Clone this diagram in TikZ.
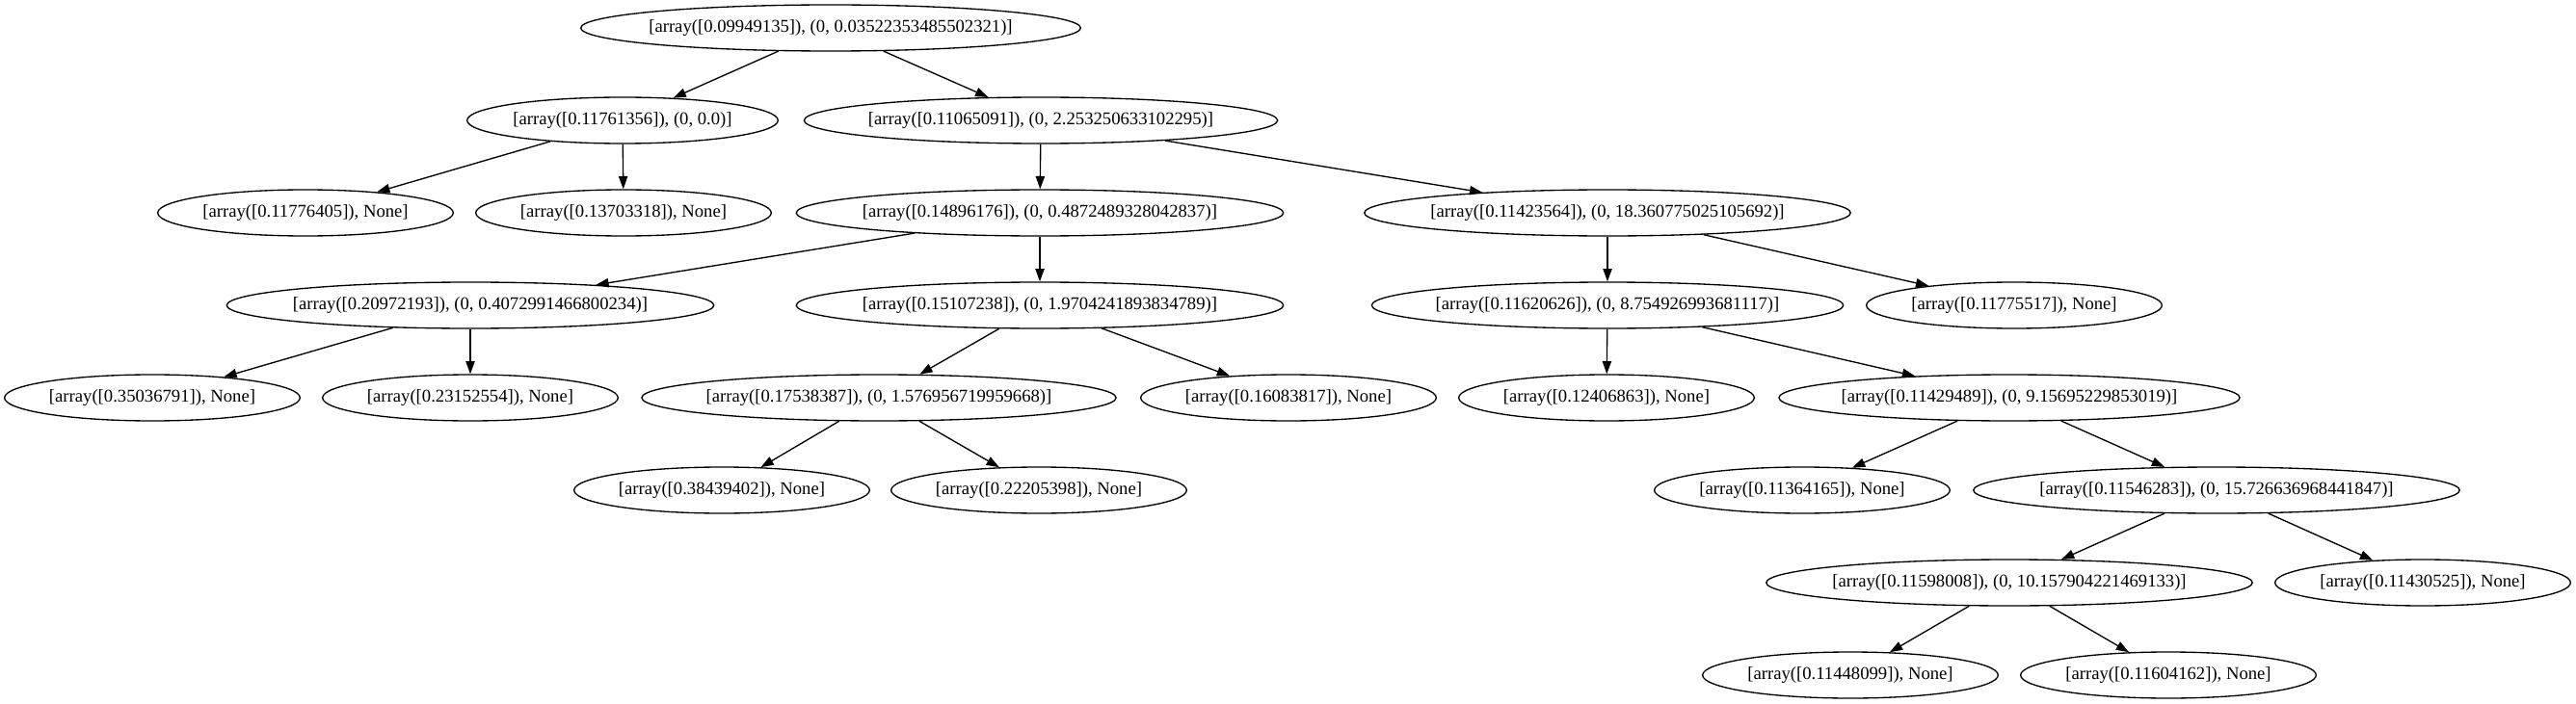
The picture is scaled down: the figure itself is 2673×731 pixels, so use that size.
\documentclass[tikz,border=0pt]{standalone}
\usepackage{fontspec}
\setmainfont{Liberation Serif}
\usetikzlibrary{arrows.meta,shapes.geometric}

\begin{document}
\begin{tikzpicture}[x=0.75pt, y=-0.75pt, font=\fontsize{14pt}{16pt}\selectfont,
  nd/.style={draw, ellipse, line width=1pt, inner xsep=-4pt, inner ysep=2pt,
             minimum height=36pt},
  split/.style={nd, minimum width=242pt},
  leaf/.style={nd, minimum width=230pt},
  ed/.style={-{Triangle[length=10pt, width=7pt]}, line width=1pt}]

\useasboundingbox (0,0) rectangle (2673,731);

% root and first split
\node[split] (root) at (862,29) {[array([0.09949135]), (0, 0.03522353485502321)]};
\node[split] (l) at (646,125) {[array([0.11761356]), (0, 0.0)]};
\node[split] (r) at (1080,125) {[array([0.11065091]), (0, 2.253250633102295)]};

% third row
\node[leaf] (ll) at (317,221) {[array([0.11776405]), None]};
\node[leaf] (lr) at (647,221) {[array([0.13703318]), None]};
\node[split] (rl) at (1079,221) {[array([0.14896176]), (0, 0.4872489328042837)]};
\node[split] (rr) at (1668,221) {[array([0.11423564]), (0, 18.360775025105692)]};

% fourth row
\node[split] (rll) at (488,317) {[array([0.20972193]), (0, 0.4072991466800234)]};
\node[split] (rlr) at (1079,317) {[array([0.15107238]), (0, 1.9704241893834789)]};
\node[split] (rrl) at (1668,317) {[array([0.11620626]), (0, 8.754926993681117)]};
\node[leaf] (rrr) at (2090,317) {[array([0.11775517]), None]};

% fifth row
\node[leaf] (rlll) at (158,413) {[array([0.35036791]), None]};
\node[leaf] (rllr) at (488,413) {[array([0.23152554]), None]};
\node[split] (rlrl) at (912,413) {[array([0.17538387]), (0, 1.576956719959668)]};
\node[leaf] (rlrr) at (1337,413) {[array([0.16083817]), None]};
\node[leaf] (rrll) at (1667,413) {[array([0.12406863]), None]};
\node[split] (rrlr) at (2085,413) {[array([0.11429489]), (0, 9.15695229853019)]};

% deeper rows
\node[leaf] (rlrll) at (749,509) {[array([0.38439402]), None]};
\node[leaf] (rlrlr) at (1078,509) {[array([0.22205398]), None]};
\node[leaf] (rrlrl) at (1870,509) {[array([0.11364165]), None]};
\node[split] (rrlrr) at (2300,509) {[array([0.11546283]), (0, 15.726636968441847)]};
\node[split] (rrlrrl) at (2085,605) {[array([0.11598008]), (0, 10.157904221469133)]};
\node[leaf] (rrlrrr) at (2514,605) {[array([0.11430525]), None]};
\node[leaf] (rrlrrll) at (1920,701) {[array([0.11448099]), None]};
\node[leaf] (rrlrrlr) at (2250,701) {[array([0.11604162]), None]};

% parent to child
\foreach \p/\c in {root/l, root/r, l/ll, l/lr, r/rl, r/rr, rl/rll, rl/rlr,
    rr/rrl, rr/rrr, rll/rlll, rll/rllr, rlr/rlrl, rlr/rlrr, rrl/rrll, rrl/rrlr,
    rlrl/rlrll, rlrl/rlrlr, rrlr/rrlrl, rrlr/rrlrr, rrlrr/rrlrrl, rrlrr/rrlrrr,
    rrlrrl/rrlrrll, rrlrrl/rrlrrlr}
  \draw[ed] (\p) -- (\c);
\end{tikzpicture}
\end{document}
